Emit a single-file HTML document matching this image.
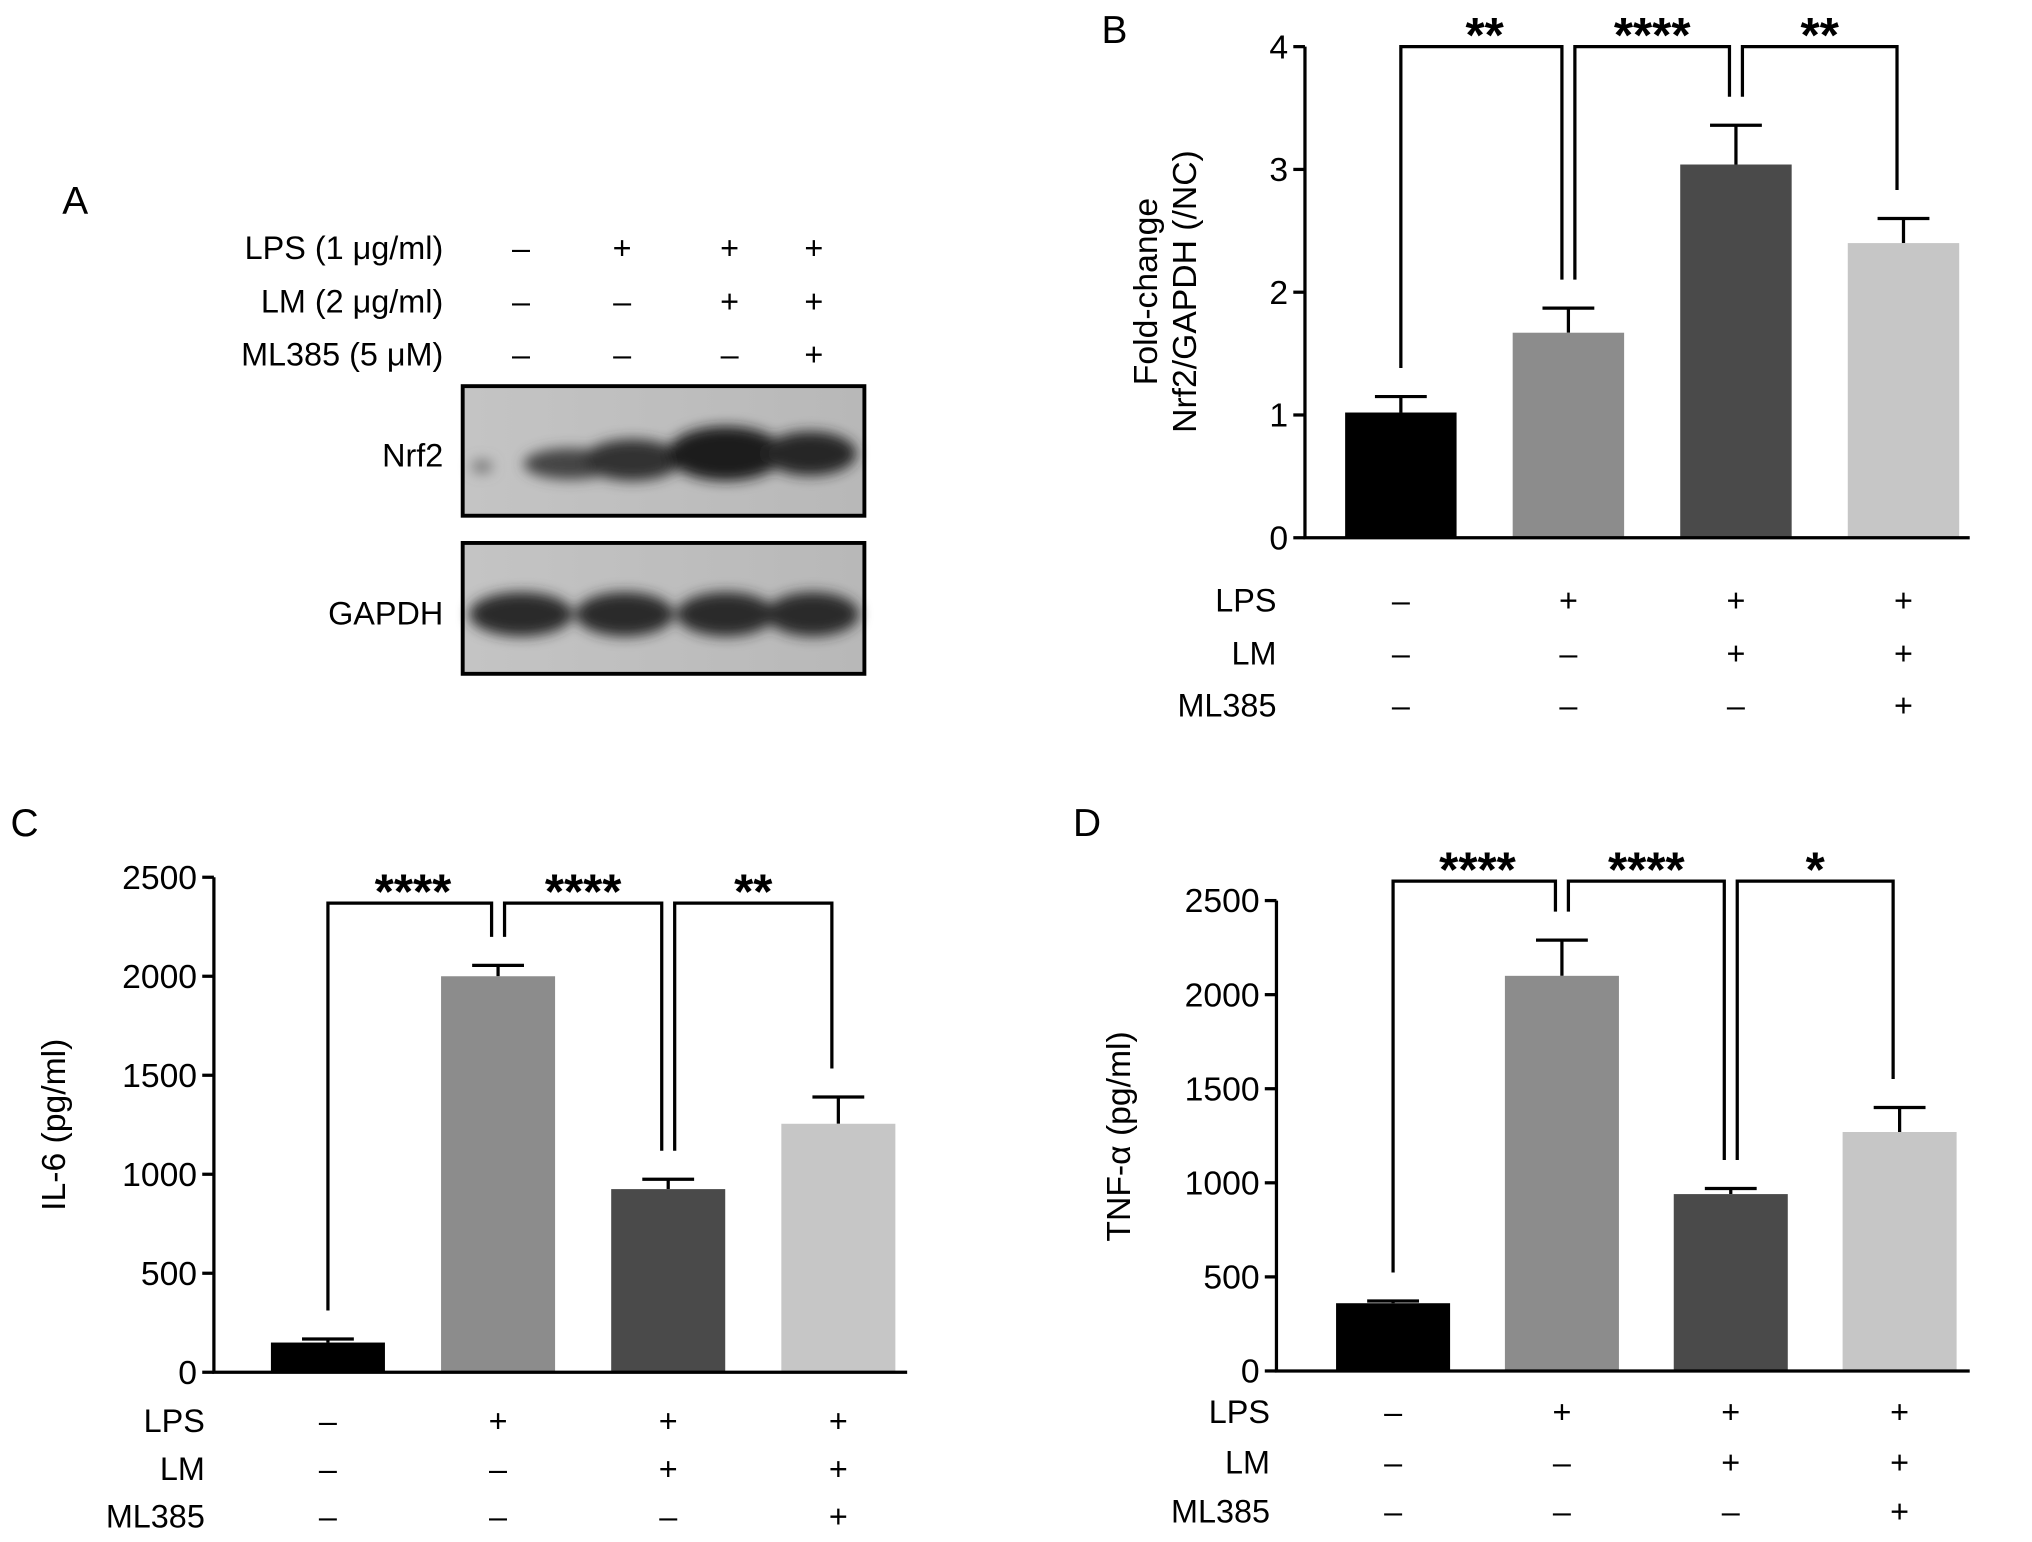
<!DOCTYPE html>
<html><head><meta charset="utf-8"><style>
html,body{margin:0;padding:0;background:#fff}
svg{display:block;font-family:"Liberation Sans",sans-serif}
</style></head><body>
<svg id="fig" width="2032" height="1542" viewBox="0 0 1568 1190" xmlns="http://www.w3.org/2000/svg">
<defs>
<filter id="blur" x="-20%" y="-50%" width="140%" height="200%"><feGaussianBlur stdDeviation="5"/></filter>
<linearGradient id="blotbg" x1="0" y1="0" x2="1" y2="0"><stop offset="0" stop-color="#c4c4c4"/><stop offset="1" stop-color="#b8b8b8"/></linearGradient>
</defs>
<g>
<text x="48" y="165" font-size="30">A</text>
<text x="342" y="200" font-size="25" text-anchor="end">LPS (1 μg/ml)</text>
<text x="342" y="241" font-size="25" text-anchor="end">LM (2 μg/ml)</text>
<text x="342" y="282" font-size="25" text-anchor="end">ML385 (5 μM)</text>
<g font-size="25" text-anchor="middle">
<text x="402" y="200">–</text><text x="480" y="200">+</text><text x="563" y="200">+</text><text x="628" y="200">+</text>
<text x="402" y="241">–</text><text x="480" y="241">–</text><text x="563" y="241">+</text><text x="628" y="241">+</text>
<text x="402" y="282">–</text><text x="480" y="282">–</text><text x="563" y="282">–</text><text x="628" y="282">+</text>
</g>
<text x="342" y="360" font-size="25" text-anchor="end">Nrf2</text>
<text x="342" y="482" font-size="25" text-anchor="end">GAPDH</text>
<g>
<rect x="357" y="298" width="310" height="100" fill="url(#blotbg)"/>
<g filter="url(#blur)" fill="#2a2a2a">
<ellipse cx="372" cy="360" rx="8" ry="5" fill="#777"/>
<ellipse cx="440" cy="358" rx="36" ry="12" fill="#444"/>
<ellipse cx="488" cy="355" rx="38" ry="16" fill="#333"/>
<ellipse cx="560" cy="350" rx="45" ry="21" fill="#1a1a1a"/>
<ellipse cx="625" cy="350" rx="36" ry="17" fill="#252525"/>
</g>
<rect x="357" y="298" width="310" height="100" fill="none" stroke="#000" stroke-width="3"/>
</g>
<g>
<rect x="357" y="419" width="310" height="101" fill="url(#blotbg)"/>
<g filter="url(#blur)" fill="#2a2a2a">
<ellipse cx="402" cy="474" rx="40" ry="17"/>
<ellipse cx="482" cy="474" rx="38" ry="17"/>
<ellipse cx="560" cy="474" rx="38" ry="17"/>
<ellipse cx="627" cy="474" rx="36" ry="17"/>
</g>
<rect x="357" y="419" width="310" height="101" fill="none" stroke="#000" stroke-width="3"/>
</g>
</g>
</svg>
<script>
// Panel B data
const nrfValues = [1.02, 1.67, 3.04, 2.40];
const nrfErrors = [0.13, 0.20, 0.32, 0.20];
const nrfTicks = [0, 1, 2, 3, 4];
// Panel C data
const il6Values = [150, 2000, 925, 1255];
const il6Errors = [18, 55, 50, 135];
const il6Ticks = [0, 500, 1000, 1500, 2000, 2500];
// Panel D data
const tnfValues = [360, 2100, 940, 1270];
const tnfErrors = [12, 190, 30, 130];
const tnfTicks = [500, 1000, 1500, 2000, 2500];
const zeroTick = [0];
// shared
const groups = ['nc', 'lps', 'lps-lm', 'lps-lm-ml385'];
const lpsSigns = ['–', '+', '+', '+'];
const lmSigns = ['–', '–', '+', '+'];
const mlSigns = ['–', '–', '–', '+'];
const nrfStars = ['**', '****', '**'];
const il6Stars = ['****', '****', '**'];
const tnfStars = ['****', '****', '*'];
const barColors = ['#000000', '#8c8c8c', '#4a4a4a', '#c6c6c6'];

const NS = 'http://www.w3.org/2000/svg';
const svg = document.getElementById('fig');
function mk(tag, attrs, parent, text) {
  const e = document.createElementNS(NS, tag);
  for (const k in attrs) e.setAttribute(k, attrs[k]);
  if (text !== undefined) e.textContent = text;
  (parent || svg).appendChild(e);
  return e;
}
function panel(cfg) {
  const g = mk('g', {});
  
  
  const y = v => cfg.y0 - (v - 0) / (cfg.ymax) * (cfg.y0 - cfg.ytop);
  const x = i => cfg.xc[0] + i * cfg.step;
  const lbl = mk('text', {x: cfg.lx, y: cfg.ly, 'font-size': 30}, g, cfg.letter);
  
  
  cfg.values.forEach((v, i) => {
    const cx = x(i);
    const et = y(v + cfg.errors[i]);
    const eb = mk('line', {x1: cx, x2: cx, y1: y(v), y2: et, stroke: '#000', 'stroke-width': 2.5}, g);
    
    
    mk('line', {x1: cx - 20, x2: cx + 20, y1: et, y2: et, stroke: '#000', 'stroke-width': 2.5}, g);
    const r = mk('rect', {x: cx - cfg.bw / 2, y: y(v), width: cfg.bw, height: cfg.y0 - y(v), fill: barColors[i]}, g);
    
    
  });
  const ax = mk('path', {d: `M${cfg.ax} ${cfg.ytop} V${cfg.y0} H${cfg.xend}`, stroke: '#000', 'stroke-width': 2.5, fill: 'none'}, g);
  
  
  cfg.ticks.forEach(t => {
    mk('line', {x1: cfg.ax - 9, x2: cfg.ax, y1: y(t), y2: y(t), stroke: '#000', 'stroke-width': 2.5}, g);
    const tl = mk('text', {x: cfg.ax - 13, y: y(t) + 9, 'font-size': 26, 'text-anchor': 'end'}, g, t);
    
    
  });
  const yt = mk('text', {transform: `translate(${cfg.tx},${cfg.ty}) rotate(-90)`, 'font-size': 26, 'text-anchor': 'middle'}, g);
  
  
  cfg.title.forEach((line, k) => mk('tspan', {x: 0, dy: k === 0 ? 0 : 30}, yt, line));
  cfg.stars.forEach((s, k) => {
    const off = 5;
    const x1 = x(k) + (k > 0 ? off : 0), x2 = x(k + 1) - off;
    const b1 = y(cfg.values[k] + cfg.errors[k]) - 22;
    const b2 = y(cfg.values[k + 1] + cfg.errors[k + 1]) - 22;
    const br = mk('path', {d: `M${x1} ${b1} V${cfg.btop} H${x2} V${b2}`, stroke: '#000', 'stroke-width': 2.5, fill: 'none'}, g);
    
    
    const st = mk('text', {x: (x(k) + x(k + 1)) / 2, y: cfg.btop + 4, 'font-size': 38, 'font-weight': 'bold', 'text-anchor': 'middle'}, g, s);
    
    
  });
  [['LPS', lpsSigns], ['LM', lmSigns], ['ML385', mlSigns]].forEach(([name, signs], r) => {
    const ry = cfg.rows[r];
    const rl = mk('text', {x: cfg.rx, y: ry, 'font-size': 25, 'text-anchor': 'end'}, g, name);
    
    
    signs.forEach((s, i) => mk('text', {x: x(i), y: ry, 'font-size': 25, 'text-anchor': 'middle'}, g, s));
  });
}
panel({name: 'panel-b', letter: 'B', lx: 850, ly: 33, values: nrfValues, errors: nrfErrors, ticks: nrfTicks, ymax: 4,
  y0: 415, ytop: 36, ax: 1007, xend: 1520, xc: [1081], step: 129.3, bw: 86, btop: 36,
  title: ['Fold-change', 'Nrf2/GAPDH (/NC)'], tx: 893, ty: 225, stars: nrfStars, rows: [472, 513, 553], rx: 985});
panel({name: 'panel-c', letter: 'C', lx: 8, ly: 645, values: il6Values, errors: il6Errors, ticks: il6Ticks, ymax: 2500,
  y0: 1059, ytop: 677, ax: 165, xend: 700, xc: [253], step: 131.3, bw: 88, btop: 697,
  title: ['IL-6 (pg/ml)'], tx: 50, ty: 868, stars: il6Stars, rows: [1105, 1142, 1179], rx: 158});
panel({name: 'panel-d', letter: 'D', lx: 828, ly: 645, values: tnfValues, errors: tnfErrors, ticks: tnfTicks.concat(zeroTick), ymax: 2500,
  y0: 1058, ytop: 695, ax: 985, xend: 1520, xc: [1075], step: 130.3, bw: 88, btop: 680,
  title: ['TNF-α (pg/ml)'], tx: 872, ty: 877, stars: tnfStars, rows: [1098, 1137, 1175], rx: 980});
</script>
</body></html>
